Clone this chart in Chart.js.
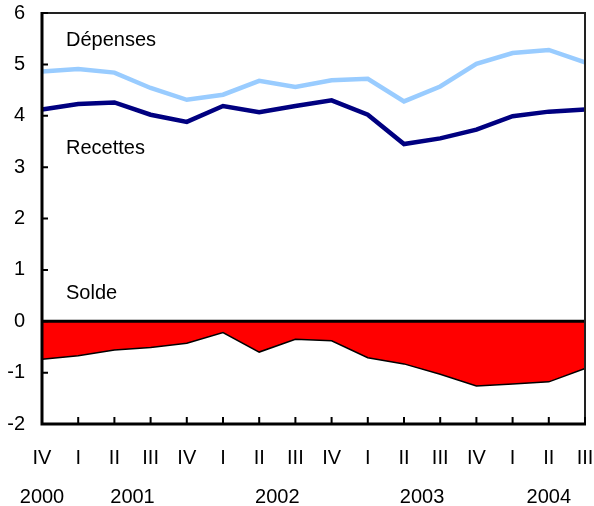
<!DOCTYPE html>
<html>
<head>
<meta charset="utf-8">
<script src="https://cdn.jsdelivr.net/npm/chart.js@4/dist/chart.umd.min.js"></script>
<style>
  html, body { margin: 0; padding: 0; background: #fff; }
  #wrap { width: 594px; height: 506px; }
</style>
</head>
<body>
<div id="wrap"><canvas id="chart" width="594" height="506"></canvas></div>
<script>
/* ======================
DATA
====================== */

const quarters = ["IV", "I", "II", "III", "IV", "I", "II", "III", "IV", "I", "II", "III", "IV", "I", "II", "III"];
const quarterYears = ["2000", "2001", "2001", "2001", "2001", "2002", "2002", "2002", "2002", "2003", "2003", "2003", "2003", "2004", "2004", "2004"];
const yearLabels = ["2000", "2001", "2002", "2003", "2004"];

const depenses = [4.86, 4.91, 4.84, 4.54, 4.31, 4.41, 4.68, 4.56, 4.69, 4.72, 4.28, 4.57, 5.01, 5.22, 5.28, 5.04];
const recettes = [4.12, 4.23, 4.26, 4.02, 3.88, 4.19, 4.07, 4.19, 4.30, 4.02, 3.45, 3.56, 3.73, 3.99, 4.08, 4.12];
const solde = [-0.74, -0.67, -0.56, -0.51, -0.43, -0.22, -0.60, -0.35, -0.38, -0.71, -0.83, -1.03, -1.26, -1.22, -1.18, -0.92];

const yTicks = [-2, -1, 0, 1, 2, 3, 4, 5, 6];

/* ======================
STYLE
====================== */

const FONT = "'Liberation Sans', Arial, Helvetica, sans-serif";

// series labels written inside the plot (y in data units)
const seriesNotes = [
  { text: "Dépenses", y: 5.46 },
  { text: "Recettes", y: 3.36 },
  { text: "Solde", y: 0.55 },
];

/* ======================
PLUGIN: frame, ticks, zero line, years, notes
====================== */

const framePlugin = {
  id: "frame",
  afterDatasetsDraw(chart) {
    const { ctx, chartArea, scales } = chart;
    const { left, right, top, bottom } = chartArea;
    const x = scales.x;
    const y = scales.y;

    ctx.save();
    ctx.lineCap = "butt";

    // zero line
    ctx.strokeStyle = "#000";
    ctx.lineWidth = 3;
    ctx.beginPath();
    ctx.moveTo(left, y.getPixelForValue(0));
    ctx.lineTo(right, y.getPixelForValue(0));
    ctx.stroke();

    // thin top / right border
    ctx.strokeStyle = "#222";
    ctx.lineWidth = 2;
    ctx.beginPath();
    ctx.moveTo(left, top);
    ctx.lineTo(right, top);
    ctx.lineTo(right, bottom);
    ctx.stroke();

    // thick left / bottom axes
    ctx.strokeStyle = "#000";
    ctx.lineWidth = 3;
    ctx.beginPath();
    ctx.moveTo(left, top - 1);
    ctx.lineTo(left, bottom);
    ctx.lineTo(right + 1, bottom);
    ctx.stroke();

    // inward tick marks
    ctx.lineWidth = 2;
    ctx.beginPath();
    yTicks.forEach((v) => {
      const py = y.getPixelForValue(v);
      ctx.moveTo(left, py);
      ctx.lineTo(left + 6, py);
    });
    quarters.forEach((q, i) => {
      const px = x.getPixelForValue(i);
      ctx.moveTo(px, bottom);
      ctx.lineTo(px, bottom - 7);
    });
    ctx.stroke();

    // year labels, centred under their quarters
    ctx.fillStyle = "#000";
    ctx.font = "20px " + FONT;
    ctx.textAlign = "center";
    ctx.textBaseline = "middle";
    yearLabels.forEach((yr) => {
      const idx = [];
      quarterYears.forEach((qy, i) => { if (qy === yr) idx.push(i); });
      const px = idx.reduce((s, i) => s + x.getPixelForValue(i), 0) / idx.length;
      ctx.fillText(yr, px, 497);
    });

    // series notes
    ctx.textAlign = "left";
    seriesNotes.forEach((n) => {
      ctx.fillText(n.text, left + 24, y.getPixelForValue(n.y));
    });

    ctx.restore();
  },
};

/* ======================
CHART
====================== */

new Chart(document.getElementById("chart"), {
  type: "line",
  data: {
    labels: quarters,
    datasets: [
      {
        label: "Dépenses",
        data: depenses,
        borderColor: "#99ccff",
        borderWidth: 4.5,
        pointRadius: 0,
        tension: 0,
        fill: false,
      },
      {
        label: "Recettes",
        data: recettes,
        borderColor: "#000080",
        borderWidth: 4.5,
        pointRadius: 0,
        tension: 0,
        fill: false,
      },
      {
        label: "Solde",
        data: solde,
        borderColor: "#000",
        borderWidth: 1.5,
        backgroundColor: "#ff0000",
        pointRadius: 0,
        tension: 0,
        fill: "origin",
      },
    ],
  },
  options: {
    responsive: false,
    animation: false,
    layout: { padding: { top: 13, right: 9, left: 0, bottom: 0 } },
    plugins: {
      legend: { display: false },
      tooltip: { enabled: false },
    },
    scales: {
      x: {
        offset: false,
        grid: { display: false, drawTicks: false },
        border: { display: false },
        ticks: {
          color: "#000",
          font: { family: FONT, size: 20 },
          padding: 22,
          maxRotation: 0,
          autoSkip: false,
        },
        afterFit(scale) {
          scale.height = 82;
          scale.paddingLeft = 0;
          scale.paddingRight = 0;
        },
      },
      y: {
        min: -2,
        max: 6,
        grid: { display: false, drawTicks: false },
        border: { display: false },
        ticks: {
          stepSize: 1,
          color: "#000",
          font: { family: FONT, size: 20 },
          padding: 17,
        },
        afterFit(scale) {
          scale.width = 42;
          scale.paddingTop = 0;
          scale.paddingBottom = 0;
        },
      },
    },
  },
  plugins: [framePlugin],
});
</script>
</body>
</html>
